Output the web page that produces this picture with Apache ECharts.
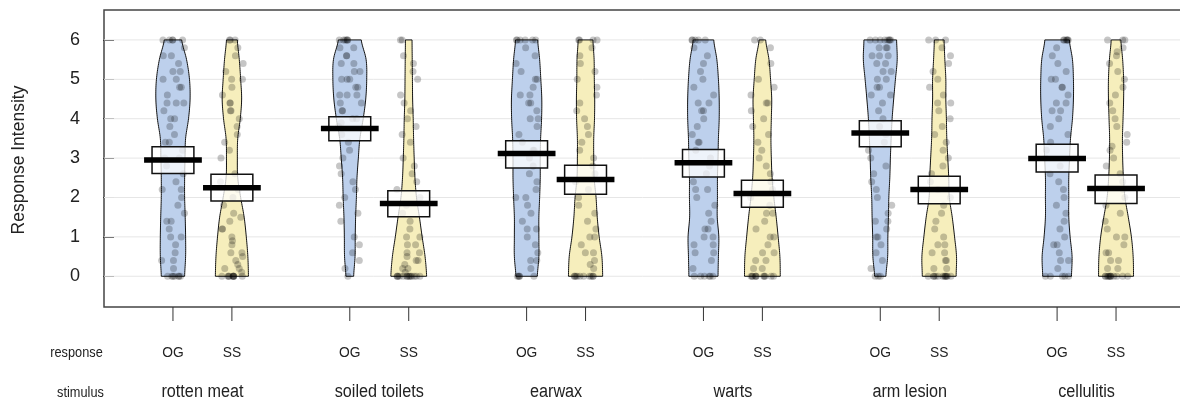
<!DOCTYPE html>
<html><head><meta charset="utf-8">
<script src="https://cdn.jsdelivr.net/npm/echarts@6/dist/echarts.min.js"></script>
<style>html,body{margin:0;padding:0;background:#fff}#c{width:1180px;height:402px}</style>
</head><body><div id="c"></div>
<script>
// ---------------- data ----------------
const stimuli = ['rotten meat', 'soiled toilets', 'earwax', 'warts', 'arm lesion', 'cellulitis'];
const responses = ['OG', 'SS'];
const yTicks = [0, 1, 2, 3, 4, 5, 6];
const densityLevels = [0, 0.5, 1, 1.5, 2, 2.5, 3, 3.5, 4, 4.5, 5, 5.5, 6];

// bean averages and inference bands (per stimulus)
const meanOG = [2.95, 3.75, 3.12, 2.88, 3.64, 2.99];
const meanSS = [2.25, 1.85, 2.46, 2.10, 2.20, 2.23];
const bandLowOG = [2.61, 3.44, 2.75, 2.52, 3.29, 2.65];
const bandHighOG = [3.29, 4.05, 3.44, 3.22, 3.95, 3.35];
const bandLowSS = [1.91, 1.51, 2.08, 1.75, 1.84, 1.85];
const bandHighSS = [2.59, 2.17, 2.82, 2.44, 2.54, 2.57];

// relative density at densityLevels (per stimulus)
const densOG = [
  [0.60,0.65,0.65,0.63,0.60,0.60,0.62,0.65,0.80,0.88,0.85,0.70,0.45],
  [0.20,0.27,0.28,0.30,0.34,0.37,0.44,0.52,0.69,0.82,0.87,0.84,0.59],
  [0.55,0.63,0.63,0.63,0.67,0.70,0.70,0.72,0.77,0.78,0.73,0.67,0.57],
  [0.75,0.77,0.79,0.71,0.72,0.72,0.75,0.77,0.81,0.81,0.77,0.69,0.53],
  [0.29,0.38,0.39,0.42,0.44,0.49,0.52,0.56,0.61,0.69,0.78,0.87,0.84],
  [0.74,0.77,0.67,0.60,0.60,0.60,0.64,0.69,0.79,0.84,0.84,0.79,0.63]
];
const densSS = [
  [0.85,0.82,0.74,0.63,0.45,0.30,0.28,0.30,0.43,0.50,0.45,0.38,0.28],
  [0.92,0.84,0.69,0.55,0.40,0.32,0.28,0.25,0.23,0.20,0.19,0.18,0.17],
  [0.88,0.84,0.70,0.60,0.54,0.44,0.42,0.42,0.46,0.47,0.45,0.44,0.38],
  [0.92,0.90,0.81,0.71,0.59,0.50,0.46,0.44,0.46,0.48,0.42,0.34,0.17],
  [0.87,0.89,0.79,0.67,0.52,0.49,0.44,0.39,0.37,0.34,0.34,0.29,0.25],
  [0.90,0.88,0.79,0.63,0.46,0.38,0.34,0.33,0.36,0.39,0.39,0.34,0.25]
];

// raw responses (per stimulus)
const rawOG = [
  [0,0,0,0,0,0,0,0.2,0.4,0.4,0.6,0.8,1.0,1.0,1.2,1.4,1.4,1.6,1.8,2.0,2.2,2.2,2.4,2.6,2.8,3.0,3.0,3.2,3.4,3.4,3.6,3.8,4.0,4.0,4.2,4.4,4.4,4.4,4.6,4.8,4.8,5.0,5.0,5.2,5.2,5.4,5.6,5.6,5.8,6,6,6,6,6],
  [0,0.2,0.4,0.6,0.8,1.0,1.4,1.6,1.8,2.0,2.2,2.4,2.6,2.8,3.0,3.2,3.4,3.6,3.8,3.9,4.0,4.0,4.2,4.2,4.4,4.4,4.6,4.6,4.6,4.8,4.8,5.0,5.0,5.0,5.2,5.2,5.4,5.4,5.6,5.6,5.8,5.8,6,6,6,6,6,6],
  [0,0,0,0,0,0.2,0.4,0.4,0.6,0.8,1.0,1.2,1.2,1.4,1.6,1.8,2.0,2.0,2.2,2.4,2.6,2.8,3.0,3.2,3.2,3.4,3.6,3.8,4.0,4.0,4.2,4.4,4.4,4.6,4.6,4.8,5.0,5.0,5.2,5.4,5.6,5.8,6,6,6,6,6,6],
  [0,0,0,0,0,0,0.2,0.4,0.6,0.6,0.8,0.8,1.0,1.0,1.2,1.2,1.4,1.6,1.8,2.0,2.2,2.2,2.4,2.6,2.8,3.0,3.2,3.4,3.4,3.6,3.8,4.0,4.2,4.2,4.4,4.4,4.6,4.8,5.0,5.2,5.4,5.6,5.8,6,6,6,6,6],
  [0,0,0,0.2,0.4,0.6,0.8,1.0,1.0,1.2,1.4,1.4,1.6,1.8,2.0,2.2,2.4,2.6,2.8,3.0,3.2,3.4,3.6,3.8,4.0,4.2,4.4,4.6,4.6,4.8,4.8,5.0,5.0,5.2,5.2,5.4,5.4,5.6,5.6,5.6,5.8,5.8,5.8,6,6,6,6,6,6,6,6],
  [0,0,0,0,0,0.2,0.4,0.4,0.6,0.8,0.8,1.0,1.2,1.4,1.6,1.8,2.0,2.2,2.4,2.6,2.8,3.0,3.2,3.4,3.6,3.8,4.0,4.2,4.2,4.4,4.4,4.6,4.8,4.8,5.0,5.0,5.2,5.4,5.6,5.8,6,6,6,6,6,6]
];
const rawSS = [
  [0,0,0,0,0,0,0,0,0,0,0.1,0.2,0.2,0.3,0.4,0.5,0.6,0.6,0.8,0.9,1.0,1.2,1.2,1.4,1.5,1.6,1.8,2.0,2.2,2.4,2.6,3.0,3.2,3.4,3.6,3.8,4.0,4.2,4.2,4.4,4.4,4.6,4.8,5.0,5.0,5.2,5.4,5.6,5.8,6,6,6],
  [0,0,0,0,0,0,0,0,0,0,0,0,0,0,0.1,0.2,0.2,0.3,0.4,0.4,0.5,0.6,0.6,0.8,0.8,1.0,1.0,1.2,1.4,1.6,1.8,2.0,2.2,2.4,2.6,2.8,3.0,3.4,3.6,3.8,4.0,4.2,4.4,4.6,5.0,5.2,5.4,5.6,6,6],
  [0,0,0,0,0,0,0,0,0,0,0.2,0.3,0.4,0.6,0.6,0.8,1.0,1.0,1.2,1.4,1.6,1.8,2.0,2.2,2.4,2.6,2.8,3.0,3.2,3.4,3.6,3.8,4.0,4.2,4.4,4.6,4.8,5.0,5.2,5.4,5.6,5.8,6,6,6,6],
  [0,0,0,0,0,0,0,0,0,0,0,0.2,0.2,0.4,0.4,0.6,0.6,0.8,1.0,1.0,1.2,1.4,1.6,1.6,1.8,2.0,2.2,2.4,2.6,2.8,3.0,3.2,3.4,3.6,3.8,4.0,4.2,4.4,4.4,4.6,4.8,5.0,5.4,5.8,6,6],
  [0,0,0,0,0,0,0,0,0,0,0,0,0.2,0.2,0.4,0.4,0.6,0.6,0.8,0.8,1.0,1.2,1.4,1.6,1.8,2.0,2.2,2.4,2.6,2.8,3.0,3.2,3.4,3.6,3.8,4.0,4.2,4.4,4.4,4.6,4.8,5.0,5.2,5.4,5.6,5.8,6,6,6],
  [0,0,0,0,0,0,0,0,0,0,0,0,0.2,0.2,0.4,0.4,0.6,0.6,0.8,1.0,1.0,1.2,1.4,1.6,1.8,2.0,2.2,2.4,2.6,2.8,3.0,3.2,3.3,3.4,3.6,3.8,4.0,4.2,4.4,4.6,4.8,5.0,5.2,5.4,5.6,5.7,5.8,6,6,6]
];

// ---------------- styling constants ----------------
const X_MIN = -0.17, X_MAX = 18.17, Y_MIN = -0.78, Y_MAX = 6.76;
const VIOLIN_SCALE = 0.33, BOX_HALF = 0.355, LINE_HALF = 0.49, JITTER_HALF = 0.2;
const fillColors = ['#BDD0EC', '#F6EEBC'];
const FONT = 'Liberation Sans, Arial, sans-serif';

// ---------------- derived beans ----------------
const beans = [];
stimuli.forEach((s, si) => {
  responses.forEach((r, ri) => {
    beans.push({
      pos: si * 3 + ri + 1, si, ri,
      dens: ri === 0 ? densOG[si] : densSS[si],
      raw: ri === 0 ? rawOG[si] : rawSS[si],
      mean: ri === 0 ? meanOG[si] : meanSS[si],
      lo: ri === 0 ? bandLowOG[si] : bandLowSS[si],
      hi: ri === 0 ? bandHighOG[si] : bandHighSS[si]
    });
  });
});

function spline(d, t) {
  const step = densityLevels[1] - densityLevels[0];
  let i = Math.min(Math.floor(t / step), d.length - 2);
  const u = t / step - i;
  const p0 = d[Math.max(i - 1, 0)], p1 = d[i], p2 = d[i + 1], p3 = d[Math.min(i + 2, d.length - 1)];
  return 0.5 * (2 * p1 + (-p0 + p2) * u + (2 * p0 - 5 * p1 + 4 * p2 - p3) * u * u + (-p0 + 3 * p1 - 3 * p2 + p3) * u * u * u);
}
// deterministic horizontal jitter for display only (hash of indices)
function jitter(bi, k) {
  const s = Math.sin((k + 1) * 12.9898 + (bi + 1) * 78.233) * 43758.5453;
  return (s - Math.floor(s)) * 2 - 1;
}

const pointData = [];
beans.forEach((b, bi) => {
  b.raw.forEach((v, k) => {
    pointData.push([b.pos + jitter(bi, k) * JITTER_HALF, v]);
  });
});

const chart = echarts.init(document.getElementById('c'), null, { renderer: 'canvas' });
chart.setOption({
  animation: false,
  grid: { left: 104, top: 10, width: 1081, height: 297, show: true, borderColor: '#444', borderWidth: 1.5, backgroundColor: 'transparent', outerBoundsMode: 'none', containLabel: false },
  xAxis: { type: 'value', min: X_MIN, max: X_MAX, show: false },
  yAxis: {
    type: 'value', min: Y_MIN, max: Y_MAX,
    axisLine: { show: false },
    axisTick: { show: true, length: 11, customValues: yTicks, lineStyle: { color: '#333', width: 1 } },
    axisLabel: { customValues: yTicks, fontSize: 18, color: '#222', margin: 24, fontFamily: FONT },
    splitLine: { show: false }
  },
  graphic: [
    { type: 'text', x: 19, y: 160, rotation: Math.PI / 2, style: { text: 'Response Intensity', fontSize: 17.5, fontFamily: FONT, fill: '#222', align: 'center', verticalAlign: 'middle' } },
    { type: 'text', x: 76.5, y: 353, scaleX: 0.85, scaleY: 1, style: { text: 'response', fontSize: 15, fontFamily: FONT, fill: '#222', align: 'center', verticalAlign: 'middle' } },
    { type: 'text', x: 80.5, y: 393, scaleX: 0.85, scaleY: 1, style: { text: 'stimulus', fontSize: 15, fontFamily: FONT, fill: '#222', align: 'center', verticalAlign: 'middle' } }
  ],
  series: [
    { // horizontal reference lines
      type: 'custom', z: 1, silent: true, data: yTicks,
      renderItem: (params, api) => {
        const v = api.value(0);
        const a = api.coord([X_MIN, v]), b = api.coord([X_MAX, v]);
        return { type: 'line', shape: { x1: a[0], y1: a[1], x2: b[0], y2: b[1] }, style: { stroke: '#E6E6E6', lineWidth: 1 } };
      }
    },
    { // beans
      type: 'custom', z: 2, silent: true, data: beans.map((b, i) => [i]),
      renderItem: (params, api) => {
        const b = beans[api.value(0)];
        const right = [], left = [];
        const top = densityLevels[densityLevels.length - 1];
        for (let t = 0; t <= top + 1e-9; t += 0.05) {
          const w = Math.max(spline(b.dens, Math.min(t, top)), 0.02) * VIOLIN_SCALE;
          right.push(api.coord([b.pos + w, t]));
          left.unshift(api.coord([b.pos - w, t]));
        }
        return { type: 'polygon', shape: { points: right.concat(left) }, style: { fill: fillColors[b.ri], stroke: '#111', lineWidth: 1 } };
      }
    },
    { // raw points
      type: 'scatter', z: 3, silent: true, data: pointData, symbol: 'circle', symbolSize: 7,
      itemStyle: { color: 'rgba(0,0,0,0.28)', borderWidth: 0 }
    },
    { // inference bands and averages
      type: 'custom', z: 4, silent: true, data: beans.map((b, i) => [i]),
      renderItem: (params, api) => {
        const b = beans[api.value(0)];
        const p1 = api.coord([b.pos - BOX_HALF, b.hi]), p2 = api.coord([b.pos + BOX_HALF, b.lo]);
        const l1 = api.coord([b.pos - LINE_HALF, b.mean]), l2 = api.coord([b.pos + LINE_HALF, b.mean]);
        return { type: 'group', children: [
          { type: 'rect', shape: { x: p1[0], y: p1[1], width: p2[0] - p1[0], height: p2[1] - p1[1] }, style: { fill: 'rgba(255,255,255,0.75)', stroke: '#111', lineWidth: 1.5 } },
          { type: 'line', shape: { x1: l1[0], y1: l1[1], x2: l2[0], y2: l2[1] }, style: { stroke: '#000', lineWidth: 5.5 } }
        ] };
      }
    },
    { // bottom ticks and labels
      type: 'custom', z: 5, silent: true, clip: false, data: beans.map((b, i) => [i]),
      renderItem: (params, api) => {
        const b = beans[api.value(0)];
        const base = api.coord([b.pos, Y_MIN]);
        const children = [
          { type: 'line', shape: { x1: base[0], y1: base[1], x2: base[0], y2: base[1] + 14 }, style: { stroke: '#333', lineWidth: 1 } },
          { type: 'text', x: base[0], y: 353, scaleX: 0.92, style: { text: responses[b.ri], fontSize: 15, fontFamily: FONT, fill: '#222', align: 'center', verticalAlign: 'middle' } }
        ];
        if (b.ri === 0) {
          const c = api.coord([b.pos + 0.5, Y_MIN]);
          children.push({ type: 'text', x: c[0], y: 392, scaleX: 0.9, style: { text: stimuli[b.si], fontSize: 18, fontFamily: FONT, fill: '#222', align: 'center', verticalAlign: 'middle' } });
        }
        return { type: 'group', children };
      }
    }
  ]
});
</script>
</body></html>
